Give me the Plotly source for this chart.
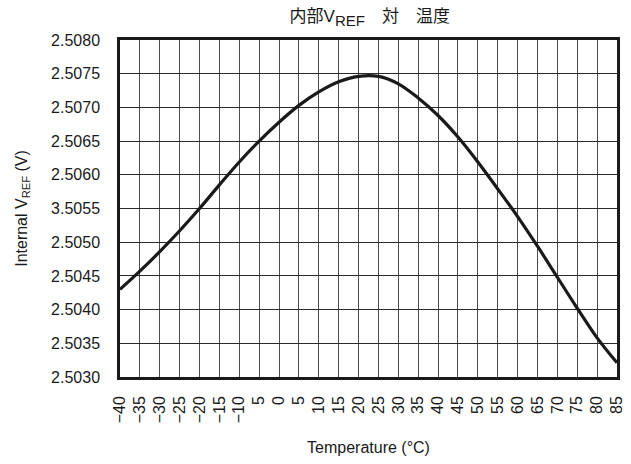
import plotly.graph_objects as go

temps = [-40, -35, -30, -25, -20, -15, -10, -5, 0, 5, 10, 15, 20, 25, 30,
         35, 40, 45, 50, 55, 60, 65, 70, 75, 80, 85]
vref = [2.50430, 2.50457, 2.50486, 2.50517, 2.50550, 2.50585, 2.50619, 2.50650,
        2.50678, 2.50703, 2.50723, 2.50738, 2.50746, 2.50746, 2.50735, 2.50714,
        2.50688, 2.50656, 2.50619, 2.50579, 2.50538, 2.50494, 2.50448, 2.50402,
        2.50358, 2.50321]

x_tickvals = list(range(-40, 90, 5))
x_ticktext = ["\u221240", "\u221235", "\u221230", "\u221225", "\u221220", "\u221215",
              "\u221210", "5", "0", "5", "10", "15", "20", "25", "30", "35", "40",
              "45", "50", "55", "60", "65", "70", "75", "80", "85"]
y_tickvals = [2.5030, 2.5035, 2.5040, 2.5045, 2.5050, 2.5055, 2.5060, 2.5065,
              2.5070, 2.5075, 2.5080]
y_ticktext = ["2.5030", "2.5035", "2.5040", "2.5045", "2.5050", "3.5055", "2.5060",
              "2.5065", "2.5070", "2.5075", "2.5080"]

FONT = "Liberation Sans, Arial, Noto Sans CJK JP, sans-serif"

fig = go.Figure()
fig.add_trace(go.Scatter(x=temps, y=vref, mode="lines",
                         line=dict(color="#1a1a1a", width=3.2, shape="spline", smoothing=1.0),
                         showlegend=False, hoverinfo="skip"))

fig.update_layout(
    width=631, height=464,
    margin=dict(l=120, r=14, t=40, b=87),
    paper_bgcolor="white", plot_bgcolor="white",
    font=dict(family=FONT, size=16, color="#1a1a1a"),
    title=dict(text="内部V<sub><span style='font-size:15px'>REF</span></sub>\u3000対\u3000温度",
               x=0.586, xanchor="center", y=0.978, yanchor="top",
               font=dict(family="Liberation Sans, Noto Sans CJK JP, sans-serif", size=17, color="#1a1a1a")),
    xaxis=dict(range=[-40, 85], tickvals=x_tickvals, ticktext=x_ticktext,
               tickangle=-90, tickfont=dict(size=16), ticks="",
               ticklabelstandoff=10, automargin=False,
               showgrid=True, gridcolor="#4d4d4d", gridwidth=1,
               showline=True, linecolor="#1a1a1a", linewidth=2.5, mirror=True,
               zeroline=False,
               title=dict(text="Temperature (°C)", font=dict(size=16), standoff=20)),
    yaxis=dict(range=[2.5030, 2.5080], tickvals=y_tickvals, ticktext=y_ticktext,
               tickfont=dict(size=16), ticks="", ticklabelstandoff=14, automargin=False,
               showgrid=True, gridcolor="#2a2a2a", gridwidth=1,
               showline=True, linecolor="#1a1a1a", linewidth=2.5, mirror=True,
               zeroline=False,
               title=dict(text="Internal V<sub>REF</sub> (V)", font=dict(size=16), standoff=20)),
)

fig.write_html("out.html")
